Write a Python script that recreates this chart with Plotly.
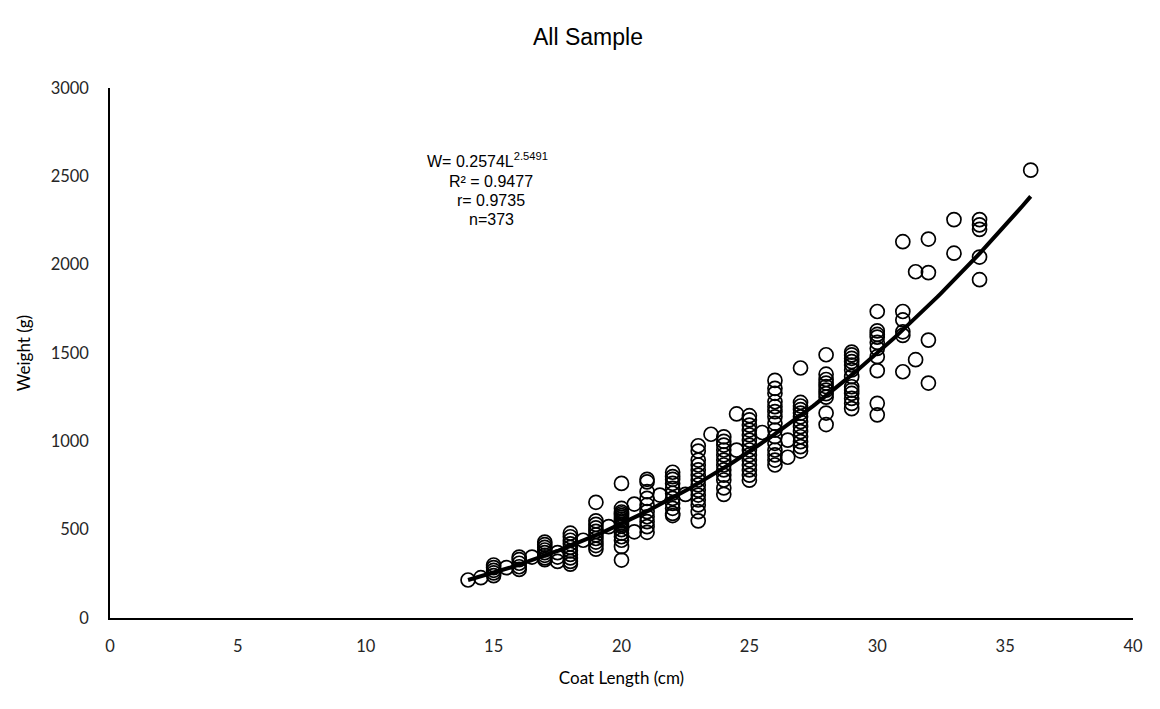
import plotly.graph_objects as go
import numpy as np

length_classes = [14, 14.5, 15, 15.5, 16, 16.5, 17, 17.5, 18, 18.5, 19, 19.5,
                  20, 20.5, 21, 21.5, 22, 22.5, 23, 23.5, 24, 24.5, 25, 25.5,
                  26, 26.5, 27, 28, 29, 30, 31, 31.5, 32, 33, 34, 36]
weights_by_class = [
    [215],
    [228],
    [300, 285, 270, 255, 240],
    [285],
    [345, 330, 310, 290, 275],
    [345],
    [430, 415, 400, 385, 370, 355, 340, 330],
    [370, 345, 320],
    [480, 460, 440, 420, 400, 380, 360, 340, 320, 305],
    [440],
    [655, 550, 530, 510, 490, 470, 450, 430, 410, 390],
    [517],
    [762, 620, 600, 590, 580, 570, 560, 550, 540, 530, 520, 500, 480, 460, 440, 404, 328],
    [645, 488],
    [785, 770, 715, 677, 640, 602, 573, 545, 517, 485],
    [696],
    [825, 800, 785, 762, 734, 706, 677, 649, 621, 592, 580],
    [700],
    [975, 945, 894, 866, 838, 809, 781, 753, 724, 696, 668, 640, 602, 550],
    [1040],
    [1025, 1000, 979, 951, 923, 894, 866, 838, 809, 781, 736, 700],
    [1155, 950],
    [1145, 1121, 1092, 1064, 1036, 1007, 979, 951, 923, 894, 866, 838, 809, 780],
    [1050],
    [1345, 1300, 1272, 1224, 1196, 1168, 1139, 1102, 1064, 1026, 989, 951, 923, 894, 866],
    [1007, 910],
    [1415, 1220, 1200, 1180, 1160, 1139, 1111, 1083, 1055, 1026, 998, 970, 945],
    [1490, 1380, 1350, 1330, 1310, 1290, 1270, 1250, 1160, 1095],
    [1505, 1489, 1470, 1451, 1432, 1404, 1366, 1309, 1290, 1271, 1243, 1215, 1185],
    [1735, 1625, 1605, 1590, 1560, 1526, 1479, 1400, 1215, 1150],
    [2130, 1735, 1687, 1620, 1600, 1394],
    [1960, 1462],
    [2145, 1955, 1573, 1330],
    [2255, 2065],
    [2255, 2225, 2200, 2043, 1915],
    [2535],
]

# Power-law fit reported on the chart: W = a * L^b
fit_a = 0.2574
fit_b = 2.5491
fit_range = [14, 36]

x_pts = []
y_pts = []
for L, ws in zip(length_classes, weights_by_class):
    for w in ws:
        x_pts.append(L)
        y_pts.append(w)

fit_x = np.linspace(fit_range[0], fit_range[1], 200)
fit_y = fit_a * fit_x ** fit_b

fig = go.Figure()
fig.add_trace(go.Scatter(
    x=x_pts, y=y_pts, mode="markers",
    marker=dict(symbol="circle-open", size=14, color="black",
                line=dict(width=1.7, color="black")),
    showlegend=False, hoverinfo="x+y"))
fig.add_trace(go.Scatter(
    x=fit_x, y=fit_y, mode="lines",
    line=dict(color="black", width=4),
    showlegend=False, hoverinfo="skip"))

tick_font = dict(family="Lato, Open Sans, sans-serif", size=16.5, color="#262626")

fig.update_layout(
    width=1160, height=709,
    paper_bgcolor="white", plot_bgcolor="white",
    margin=dict(l=102, r=35, t=80, b=99),
    title=dict(text="All Sample", x=0.5, xanchor="center", y=0.959, yanchor="middle",
               font=dict(family="Liberation Sans, Arial, sans-serif", size=23, color="black")),
    xaxis=dict(range=[0, 40], dtick=5, tick0=0, showgrid=False, zeroline=False,
               showline=True, linecolor="black", linewidth=2, ticks="",
               ticklabelstandoff=12,
               tickfont=tick_font,
               title=dict(text="Coat Length (cm)", standoff=17,
                          font=dict(family="Lato, Open Sans, sans-serif", size=17, color="black"))),
    yaxis=dict(range=[0, 3000], dtick=500, tick0=0, showgrid=False, zeroline=False,
               showline=True, linecolor="black", linewidth=1.5, ticks="",
               ticklabelstandoff=16,
               tickfont=tick_font,
               title=dict(text="Weight (g)", standoff=16,
                          font=dict(family="Lato, Open Sans, sans-serif", size=17, color="black"))),
)

ann_font = dict(family="Liberation Sans, Arial, sans-serif", size=16, color="black")
ann_lines = [
    ("W= 0.2574L<sup>2.5491</sup>", 0.3695, 0.865),
    ("R² = 0.9477", 0.3725, 0.823),
    ("r= 0.9735", 0.3725, 0.787),
    ("n=373", 0.3725, 0.751),
]
for txt, ax, ay in ann_lines:
    fig.add_annotation(text=txt, xref="paper", yref="paper", x=ax, y=ay,
                       xanchor="center", yanchor="middle", showarrow=False, font=ann_font)

fig.write_html("out.html")
